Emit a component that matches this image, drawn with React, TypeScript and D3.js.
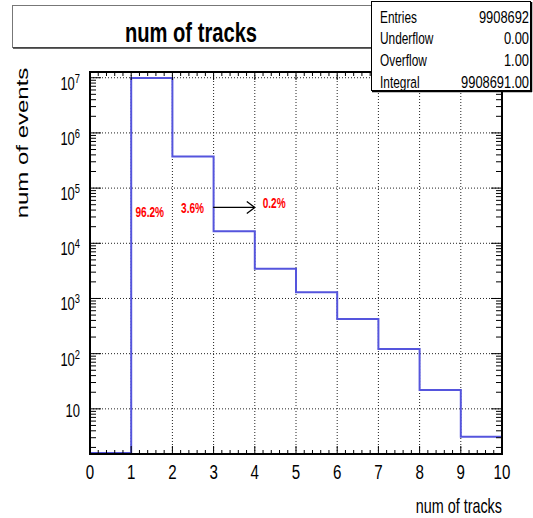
import * as d3 from 'd3';

const BIN_EDGES = [0, 1, 2, 3, 4, 5, 6, 7, 8, 9, 10];
const COUNTS = [0, 9532000, 357000, 15800, 3330, 1240, 408, 117, 21, 3];
const X_TICKS = [0, 1, 2, 3, 4, 5, 6, 7, 8, 9, 10];
const Y_DECADES = [10, 100, 1e3, 1e4, 1e5, 1e6, 1e7];
const Y_DOMAIN: [number, number] = [1.52, 1.27e7];
const STATS = [
  ['Entries', '9908692'],
  ['Underflow', '0.00'],
  ['Overflow', '1.00'],
  ['Integral', '9908691.00'],
];
const ANNOTATIONS = [
  { text: '96.2%', x: 1.45, y: 3.0e4 },
  { text: '3.6%', x: 2.49, y: 3.54e4 },
  { text: '0.2%', x: 4.47, y: 4.37e4 },
];
const ARROW = { x1: 2.99, x2: 4.0, y: 4.46e4 };

const W = 533;
const H = 518;
const FRAME = { left: 90, right: 502, top: 72, bottom: 454 };
const FONT = 'Liberation Sans, Arial, Helvetica, sans-serif';
const SQ = 0.72; // horizontal squeeze of the original rendering
const HIST_COLOR = '#5555dd';

export default function App() {
  const x = d3.scaleLinear().domain([0, 10]).range([FRAME.left, FRAME.right]);
  const y = d3.scaleLog().domain(Y_DOMAIN).range([FRAME.bottom, FRAME.top]);
  const yc = (v: number) => y(Math.max(v, Y_DOMAIN[0]));

  const pts: [number, number][] = COUNTS.map((c, i) => [BIN_EDGES[i], c]);
  pts.push([BIN_EDGES[BIN_EDGES.length - 1], COUNTS[COUNTS.length - 1]]);
  const histPath = d3.line<[number, number]>()
    .x(d => x(d[0]))
    .y(d => yc(d[1]) - 1)
    .curve(d3.curveStepAfter)(pts) || '';

  const xMinor = d3.range(0, 10.001, 0.2).filter(v => Math.abs(v - Math.round(v)) > 1e-6);
  const yMinor: number[] = [];
  [1, ...Y_DECADES].forEach(d => {
    for (let k = 2; k <= 9; k++) {
      const v = k * d;
      if (v >= Y_DOMAIN[0] && v <= Y_DOMAIN[1]) yMinor.push(v);
    }
  });

  const gridDash = '1 2';

  return (
    <svg width={W} height={H} style={{ position: 'absolute', left: 0, top: 0, background: '#fff' }}>
      <rect x={0} y={0} width={W} height={H} fill="#fff" />

      {/* grid */}
      {X_TICKS.filter(t => t > 0 && t < 10).map(t => (
        <line key={'gx' + t} x1={x(t)} x2={x(t)} y1={FRAME.top} y2={FRAME.bottom}
          stroke="#222" strokeWidth={1} strokeDasharray={gridDash} />
      ))}
      {Y_DECADES.map(t => (
        <line key={'gy' + t} x1={FRAME.left} x2={FRAME.right} y1={y(t)} y2={y(t)}
          stroke="#222" strokeWidth={1} strokeDasharray={gridDash} />
      ))}

      {/* histogram */}
      <path d={histPath} fill="none" stroke={HIST_COLOR} strokeWidth={2} />

      {/* ticks */}
      {X_TICKS.map(t => (
        <g key={'xt' + t}>
          <line x1={x(t)} x2={x(t)} y1={FRAME.bottom} y2={FRAME.bottom - 8} stroke="#000" />
          <line x1={x(t)} x2={x(t)} y1={FRAME.top} y2={FRAME.top + 8} stroke="#000" />
        </g>
      ))}
      {xMinor.map(t => (
        <g key={'xm' + t}>
          <line x1={x(t)} x2={x(t)} y1={FRAME.bottom} y2={FRAME.bottom - 4} stroke="#000" />
          <line x1={x(t)} x2={x(t)} y1={FRAME.top} y2={FRAME.top + 4} stroke="#000" />
        </g>
      ))}
      {Y_DECADES.map(t => (
        <g key={'yt' + t}>
          <line x1={FRAME.left} x2={FRAME.left + 11} y1={y(t)} y2={y(t)} stroke="#000" />
          <line x1={FRAME.right} x2={FRAME.right - 11} y1={y(t)} y2={y(t)} stroke="#000" />
        </g>
      ))}
      {yMinor.map(t => (
        <g key={'ym' + t}>
          <line x1={FRAME.left} x2={FRAME.left + 6} y1={y(t)} y2={y(t)} stroke="#000" />
          <line x1={FRAME.right} x2={FRAME.right - 6} y1={y(t)} y2={y(t)} stroke="#000" />
        </g>
      ))}

      {/* frame */}
      <rect x={FRAME.left} y={FRAME.top} width={FRAME.right - FRAME.left} height={FRAME.bottom - FRAME.top}
        fill="none" stroke="#000" strokeWidth={2} />

      {/* x tick labels */}
      {X_TICKS.map(t => (
        <g key={'xl' + t} transform={`translate(${x(t)},479) scale(${SQ},1)`}>
          <text textAnchor="middle" fontFamily={FONT} fontSize={21} fill="#000">{t}</text>
        </g>
      ))}

      {/* y tick labels */}
      {Y_DECADES.map(t => {
        const e = Math.round(Math.log10(t));
        return (
          <g key={'yl' + t} transform={`translate(80,${y(t) + (e === 1 ? 8.5 : 12)}) scale(${SQ},1)`}>
            <text textAnchor="end" fontFamily={FONT} fontSize={18} fill="#000">
              10{e > 1 && <tspan fontSize={13} dy={-7}>{e}</tspan>}
            </text>
          </g>
        );
      })}

      {/* axis titles */}
      <g transform={`translate(502,513) scale(${SQ},1)`}>
        <text textAnchor="end" fontFamily={FONT} fontSize={20} fill="#000">num of tracks</text>
      </g>
      <g transform={`translate(28,143) scale(${SQ},1) rotate(-90)`}>
        <text textAnchor="middle" fontFamily={FONT} fontSize={24} fill="#000">num of events</text>
      </g>

      {/* annotations */}
      {ANNOTATIONS.map(a => (
        <g key={a.text} transform={`translate(${x(a.x)},${y(a.y)}) scale(${SQ},1)`}>
          <text textAnchor="middle" fontFamily={FONT} fontSize={14} fontWeight="bold" fill="#ff0000">{a.text}</text>
        </g>
      ))}
      <g stroke="#000" strokeWidth={1.3} fill="none">
        <line x1={x(ARROW.x1)} x2={x(ARROW.x2)} y1={y(ARROW.y)} y2={y(ARROW.y)} />
        <polyline points={`${x(ARROW.x2) - 8},${y(ARROW.y) - 6} ${x(ARROW.x2)},${y(ARROW.y)} ${x(ARROW.x2) - 8},${y(ARROW.y) + 6}`} />
      </g>

      {/* title box */}
      <rect x={12.5} y={5.5} width={362} height={42} fill="#fff" stroke="#777" strokeWidth={1} />
      <line x1={13} x2={375} y1={48} y2={48} stroke="#333" strokeWidth={1.5} />
      <g transform={`translate(191,42) scale(${SQ},1)`}>
        <text textAnchor="middle" fontFamily={FONT} fontSize={28} fontWeight="bold" fill="#000">num of tracks</text>
      </g>

      {/* stats box */}
      <rect x={371.5} y={1.5} width={159} height={89} fill="#fff" stroke="#000" strokeWidth={1} />
      <line x1={372} x2={532} y1={91.5} y2={91.5} stroke="#000" strokeWidth={1.5} />
      <line x1={531.5} x2={531.5} y1={2} y2={92} stroke="#000" strokeWidth={1.5} />
      {STATS.map((s, i) => (
        <g key={s[0]}>
          <g transform={`translate(380,${22.5 + i * 21.7}) scale(${SQ},1)`}>
            <text fontFamily={FONT} fontSize={16.5} fill="#000">{s[0]}</text>
          </g>
          <g transform={`translate(529,${22.5 + i * 21.7}) scale(0.78,1)`}>
            <text textAnchor="end" fontFamily={FONT} fontSize={16.5} fill="#000">{s[1]}</text>
          </g>
        </g>
      ))}
    </svg>
  );
}
